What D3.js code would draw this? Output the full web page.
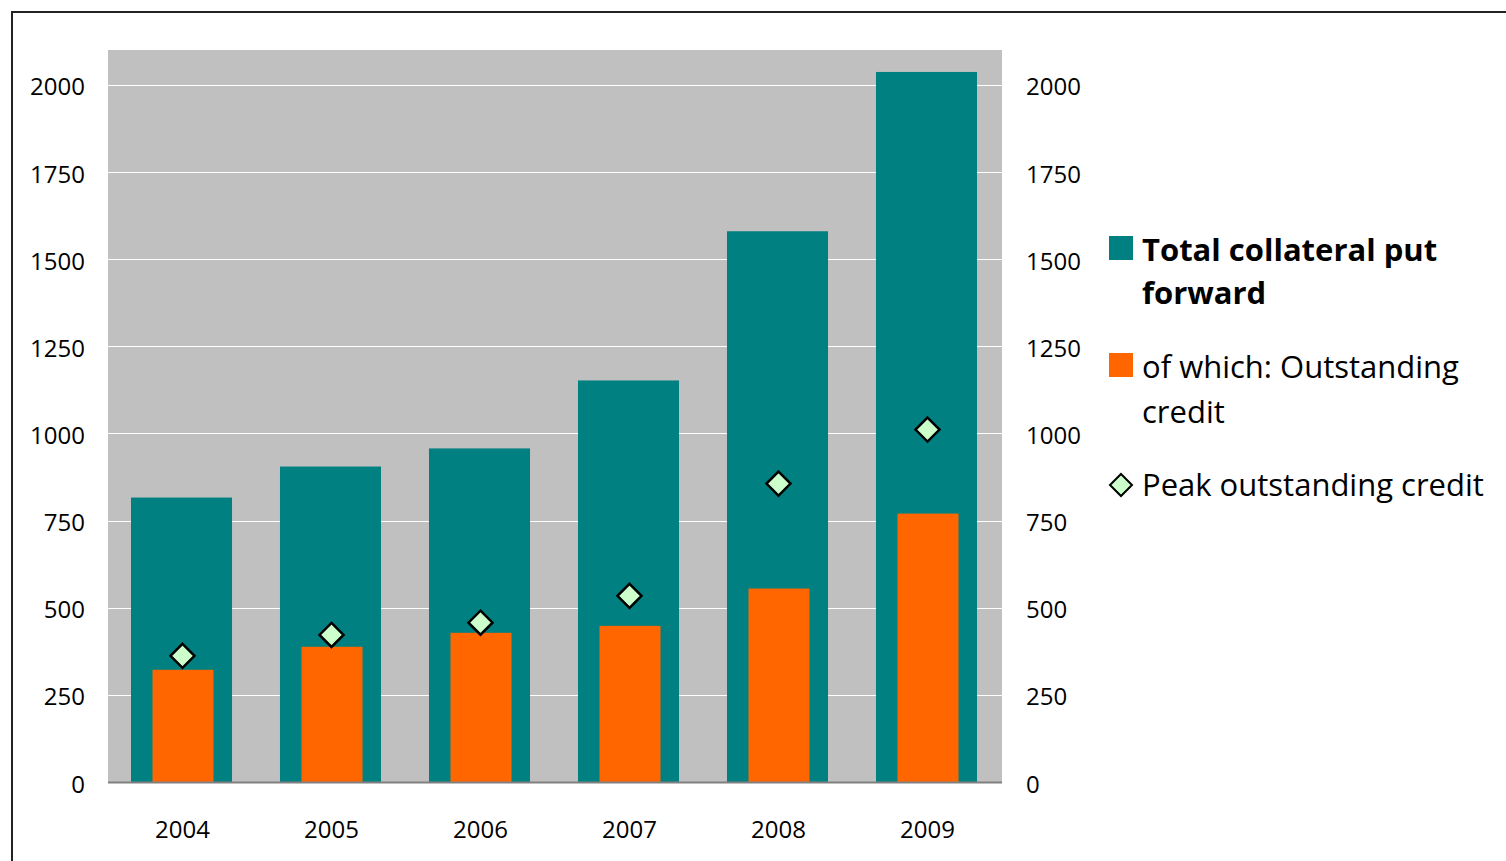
<!DOCTYPE html>
<html>
<head>
<meta charset="utf-8">
<script src="https://cdn.jsdelivr.net/npm/d3@7"></script>
<style>
  body { margin: 0; background: #fff; }
  svg { display: block; font-family: "Open Sans", Lato, sans-serif; }
</style>
</head>
<body>
<svg id="chart"></svg>
<script>
const years = ["2004", "2005", "2006", "2007", "2008", "2009"];
const totalCollateral = [816, 905, 957, 1152, 1580, 2037];
const outstandingCredit = [322, 388, 428, 448, 555, 770];
const peakCredit = [362, 422, 457, 534, 856, 1011];
const yTicks = [0, 250, 500, 750, 1000, 1250, 1500, 1750, 2000];

const width = 1506;
const height = 861;
const plot = { left: 108, right: 1002, top: 50, bottom: 782 };

const svg = d3.select("#chart").attr("width", width).attr("height", height);

// outer frame
svg.append("rect")
  .attr("x", 12).attr("y", 12)
  .attr("width", width).attr("height", height)
  .attr("fill", "none").attr("stroke", "#222").attr("stroke-width", 2);

const xScale = d3.scaleBand()
  .domain(years)
  .range([plot.left, plot.right])
  .paddingInner(0.322)
  .paddingOuter(0.161);

const yScale = d3.scaleLinear()
  .domain([0, 2100])
  .range([plot.bottom, plot.top]);

// plot area
svg.append("rect")
  .attr("x", plot.left).attr("y", plot.top)
  .attr("width", plot.right - plot.left).attr("height", plot.bottom - plot.top)
  .attr("fill", "#c0c0c0");

// gridlines
svg.append("g")
  .selectAll("line")
  .data(yTicks.filter((d) => d > 0))
  .enter()
  .append("line")
  .attr("x1", plot.left).attr("x2", plot.right)
  .attr("y1", (d) => Math.round(yScale(d)) + 0.5)
  .attr("y2", (d) => Math.round(yScale(d)) + 0.5)
  .attr("stroke", "#ffffff").attr("stroke-width", 1);

// teal bars
svg.append("g")
  .selectAll("rect")
  .data(years)
  .enter()
  .append("rect")
  .attr("x", (d) => xScale(d) - 1)
  .attr("width", xScale.bandwidth())
  .attr("y", (d, i) => yScale(totalCollateral[i]))
  .attr("height", (d, i) => plot.bottom - yScale(totalCollateral[i]))
  .attr("fill", "#008080");

// orange bars
const innerW = 61;
svg.append("g")
  .selectAll("rect")
  .data(years)
  .enter()
  .append("rect")
  .attr("x", (d) => xScale(d) + xScale.bandwidth() / 2 - innerW / 2 + 0.5)
  .attr("width", innerW)
  .attr("y", (d, i) => yScale(outstandingCredit[i]))
  .attr("height", (d, i) => plot.bottom - yScale(outstandingCredit[i]))
  .attr("fill", "#ff6600");

// diamonds
const diamond = "M0,-12L12,0L0,12L-12,0Z";
svg.append("g")
  .selectAll("path")
  .data(years)
  .enter()
  .append("path")
  .attr("d", diamond)
  .attr("transform", (d, i) =>
    `translate(${xScale(d) + xScale.bandwidth() / 2}, ${yScale(peakCredit[i])})`)
  .attr("fill", "#ccffcc")
  .attr("stroke", "#000")
  .attr("stroke-width", 2.5)
  .attr("stroke-linejoin", "miter");

// x axis line
svg.append("line")
  .attr("x1", plot.left).attr("x2", plot.right)
  .attr("y1", plot.bottom + 0.5).attr("y2", plot.bottom + 0.5)
  .attr("stroke", "#808080").attr("stroke-width", 2);

// axes (library axes, domain/ticks hidden)
const tickFont = (g) => g.selectAll("text")
  .attr("fill", "#000")
  .style("font-size", "24px")
  .style("font-family", "'Open Sans', sans-serif");

const leftAxis = d3.axisLeft(yScale).tickValues(yTicks).tickSize(0).tickPadding(23)
  .tickFormat(d3.format("d"));
const gl = svg.append("g")
  .attr("transform", `translate(${plot.left}, 0)`)
  .call(leftAxis);
gl.select(".domain").remove();
tickFont(gl);
gl.selectAll("text").attr("dy", "0.42em");

const rightAxis = d3.axisRight(yScale).tickValues(yTicks).tickSize(0).tickPadding(24)
  .tickFormat(d3.format("d"));
const gr = svg.append("g")
  .attr("transform", `translate(${plot.right}, 0)`)
  .call(rightAxis);
gr.select(".domain").remove();
tickFont(gr);
gr.selectAll("text").attr("dy", "0.42em");

const bottomAxis = d3.axisBottom(xScale).tickSize(0).tickPadding(39);
const gb = svg.append("g")
  .attr("transform", `translate(0, ${plot.bottom})`)
  .call(bottomAxis);
gb.select(".domain").remove();
tickFont(gb);

// legend
const legend = svg.append("g").style("font-size", "31px").attr("fill", "#000");

legend.append("rect")
  .attr("x", 1109).attr("y", 236).attr("width", 24).attr("height", 24)
  .attr("fill", "#008080");
const t1 = legend.append("text").attr("x", 1142).attr("y", 261).style("font-weight", "bold");
t1.append("tspan").attr("x", 1142).text("Total collateral put");
t1.append("tspan").attr("x", 1142).attr("dy", 43).text("forward");

legend.append("rect")
  .attr("x", 1109).attr("y", 353).attr("width", 24).attr("height", 24)
  .attr("fill", "#ff6600");
const t2 = legend.append("text").attr("x", 1142).attr("y", 378);
t2.append("tspan").attr("x", 1142).text("of which: Outstanding");
t2.append("tspan").attr("x", 1142).attr("dy", 45).text("credit");

legend.append("path")
  .attr("d", "M0,-11L11,0L0,11L-11,0Z")
  .attr("transform", "translate(1121, 485)")
  .attr("fill", "#ccffcc").attr("stroke", "#000").attr("stroke-width", 2);
legend.append("text").attr("x", 1142).attr("y", 496).text("Peak outstanding credit");
</script>
</body>
</html>
